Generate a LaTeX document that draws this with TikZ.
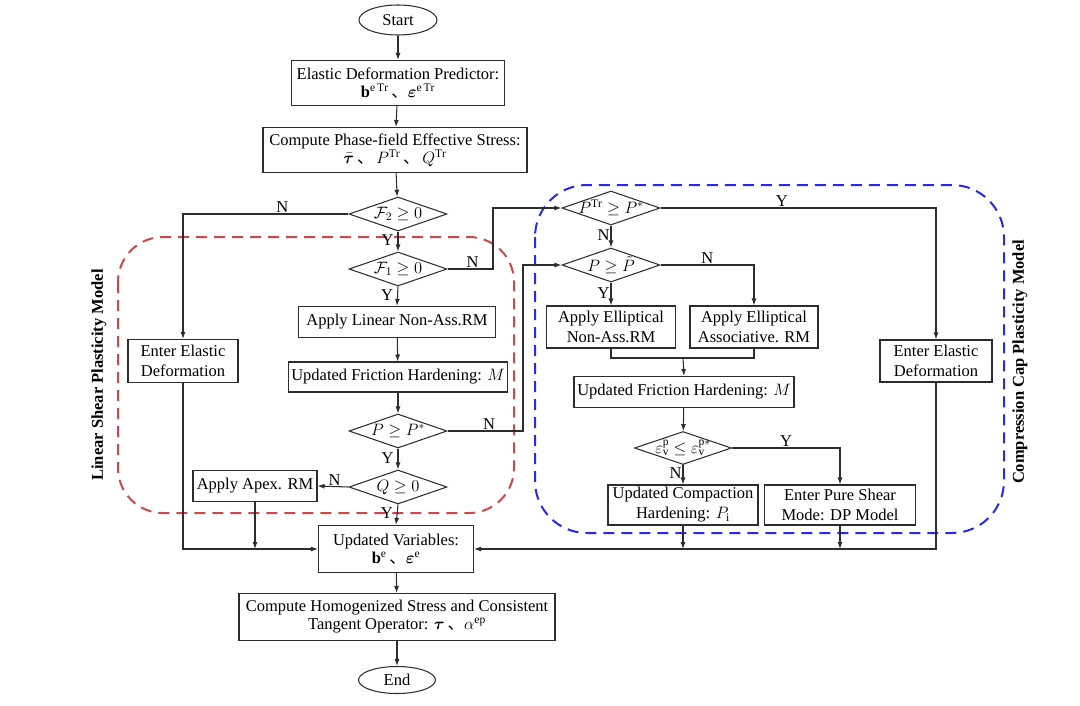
\RequirePackage{fix-cm}
\documentclass[tikz,border=0pt]{standalone}
\usepackage{amsmath,amssymb,bm}
\usepackage{fontspec}
\setmainfont{Liberation Serif}
\newfontfamily\cjk{Noto Sans CJK SC}
\DeclareSymbolFont{cmacc}{OT1}{cmr}{m}{n}
\DeclareMathAccent{\tilde}{\mathalpha}{cmacc}{"7E}
\DeclareMathAccent{\bar}{\mathalpha}{cmacc}{"16}
\usetikzlibrary{shapes.geometric,arrows.meta}
\definecolor{ln}{RGB}{45,45,45}
\definecolor{redd}{RGB}{205,72,72}
\definecolor{blued}{RGB}{40,40,240}
\newcommand{\dn}{{\cjk 、}}
\begin{document}
\begin{tikzpicture}[x=1pt,y=-1pt,
  font=\fontsize{16.5}{20}\selectfont,
  box/.style={draw=ln,line width=1.05pt,rectangle,align=center,inner sep=1pt},
  dia/.style={draw=ln,line width=1.05pt,diamond,inner sep=0pt,minimum width=98pt,minimum height=34pt},
  term/.style={draw=ln,line width=1.05pt,ellipse,inner sep=0pt},
  arr/.style={draw=ln,line width=1.05pt,-{Latex[length=7pt,width=5pt]}},
  con/.style={draw=ln,line width=1.05pt},
  lab/.style={inner sep=1pt},
  region/.style={dashed,dash pattern=on 11pt off 7pt,line width=2pt}]
\useasboundingbox (0,0) rectangle (1080,705);
% regions
\draw[region,redd,rounded corners=45pt] (118,237) rectangle (514,513);
\draw[region,blued,rounded corners=52pt] (535,185) rectangle (1004,533);
\node[rotate=90,font=\fontsize{16.5}{20}\selectfont\bfseries] (lsl) at (99,375) {Linear Shear Plasticity Model};
\node[rotate=90,font=\fontsize{16.5}{20}\selectfont\bfseries] (ccl) at (1020,362) {Compression Cap Plasticity Model};
% main column
\node[term,minimum width=78pt,minimum height=30pt] (start) at (398,20) {Start};
\node[box,minimum width=213pt,minimum height=45pt] (b1) at (398,83) {Elastic Deformation Predictor:\\[-2pt] $\mathbf{b}^{\mathrm{e\,Tr}}$\,\dn$\bm{\varepsilon}^{\mathrm{e\,Tr}}$};
\node[box,minimum width=264pt,minimum height=45pt] (b2) at (395,150) {Compute Phase-field Effective Stress:\\[-2pt] $\bar{\bm{\tau}}$\,\dn\,$P^{\mathrm{Tr}}$\,\dn\,$Q^{\mathrm{Tr}}$};
\node[dia,label=center:{$\mathcal{F}_2\geq 0$}] (d2) at (398,214) {};
\node[dia,label=center:{$\mathcal{F}_1\geq 0$}] (d1) at (398,269) {};
\node[box,minimum width=197pt,minimum height=31pt] (lin) at (397,322) {Apply Linear Non-Ass.RM};
\node[box,minimum width=219pt,minimum height=30pt] (fl) at (398,377) {Updated Friction Hardening: $M$};
\node[dia,label=center:{$P\geq P^{*}$}] (dpp) at (398,431) {};
\node[dia,label=center:{$Q\geq 0$}] (dq) at (398,487) {};
\node[box,minimum width=124pt,minimum height=31pt] (apex) at (255,486) {Apply Apex. RM};
\node[box,minimum width=110pt,minimum height=43pt] (eel) at (183,361) {Enter Elastic\\ Deformation};
\node[box,minimum width=155pt,minimum height=47pt] (uv) at (396,549) {Updated Variables:\\[-2pt] $\mathbf{b}^{\mathrm{e}}$\,\dn$\bm{\varepsilon}^{\mathrm{e}}$};
\node[box,minimum width=316pt,minimum height=47pt] (hom) at (397,617) {Compute Homogenized Stress and Consistent\\[-2pt] Tangent Operator: $\bm{\tau}$\,\dn$\alpha^{\mathrm{ep}}$};
\node[term,minimum width=77pt,minimum height=27pt] (end) at (397,680) {End};
% right part
\node[dia,label=center:{$P^{\mathrm{Tr}}\geq P^{*}$}] (dptr) at (611,208) {};
\node[dia,label=center:{$P\geq \tilde{P}$}] (dpt) at (611,265) {};
\node[box,minimum width=129pt,minimum height=42pt] (nas) at (611,327) {Apply Elliptical\\ Non-Ass.RM};
\node[box,minimum width=128pt,minimum height=42pt] (ass) at (754,327) {Apply Elliptical\\ Associative. RM};
\node[box,minimum width=220pt,minimum height=31pt] (fr) at (684,392) {Updated Friction Hardening: $M$};
\node[dia,minimum width=97pt,minimum height=33pt,label=center:{$\varepsilon_{\mathrm{v}}^{\mathrm{p}}\leq\varepsilon_{\mathrm{v}}^{\mathrm{p}*}$}] (deps) at (683,448) {};
\node[box,minimum width=150pt,minimum height=40pt] (comp) at (683,505) {Updated Compaction\\ Hardening: $P_{\mathrm{i}}$};
\node[box,minimum width=151pt,minimum height=40pt] (pure) at (840,505) {Enter Pure Shear\\ Mode: DP Model};
\node[box,minimum width=112pt,minimum height=42pt] (eer) at (936,361) {Enter Elastic\\ Deformation};
% connectors main
\draw[arr] (start) -- (b1);
\draw[arr] (b1) -- (b2);
\draw[arr] (b2) -- (d2);
\draw[arr] (d2.west) -| node[lab,pos=0.2,above]{N} (eel.north);
\draw[arr] (d2.south) -- node[lab,left,pos=0.45,xshift=-3pt]{Y} (d1.north);
\coordinate (c1) at (493,269);
\draw[arr] (d1.east) -- node[lab,pos=0.55,above]{N} (c1) |- (dptr.west);
\draw[arr] (d1.south) -- node[lab,left,pos=0.45,xshift=-3pt]{Y} (lin.north);
\draw[arr] (lin) -- (fl);
\draw[arr] (fl) -- (dpp);
\coordinate (c2) at (523,431);
\draw[arr] (dpp.east) -- node[lab,pos=0.55,above]{N} (c2) |- (dpt.west);
\draw[arr] (dpp.south) -- node[lab,left,pos=0.45,xshift=-3pt]{Y} (dq.north);
\draw[arr] (dq.west) -- node[lab,above,pos=0.45]{N} (apex.east);
\draw[arr] (dq.south) -- node[lab,left,pos=0.4,xshift=-3pt]{Y} (uv.north);
\draw[arr] (eel.south) |- (uv.west);
\draw[arr] (apex.south) -- (apex.south |- uv.west);
\draw[arr] (uv) -- (hom);
\draw[arr] (hom) -- (end);
% connectors right
\draw[arr] (dptr.east) -| node[lab,pos=0.22,above]{Y} (eer.north);
\draw[arr] (dptr.south) -- node[lab,left,pos=0.45]{N} (dpt.north);
\draw[arr] (dpt.east) -| node[lab,pos=0.25,above]{N} (ass.north);
\draw[arr] (dpt.south) -- node[lab,left,pos=0.45]{Y} (nas.north);
\coordinate (jn) at (683,358);
\draw[con] (nas.south) |- (jn) -| (ass.south);
\draw[arr] (jn) -- (fr.north);
\draw[arr] (fr) -- (deps);
\draw[arr] (deps.east) -| node[lab,pos=0.25,above]{Y} (pure.north);
\draw[arr] (deps.south) -- node[lab,left,pos=0.4]{N} (comp.north);
\draw[arr] (eer.south) |- (uv.east);
\draw[arr] (comp.south) -- (comp.south |- uv.east);
\draw[arr] (pure.south) -- (pure.south |- uv.east);
\end{tikzpicture}
\end{document}
